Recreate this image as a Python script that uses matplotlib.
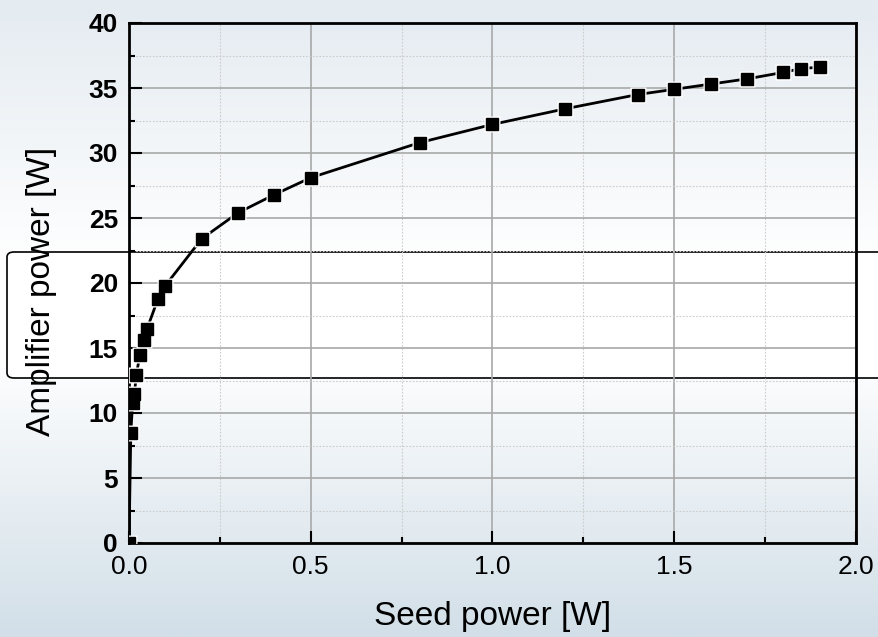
import numpy as np
import matplotlib
matplotlib.use("Agg")
import matplotlib.pyplot as plt
from matplotlib.patches import FancyBboxPatch
from matplotlib.colors import LinearSegmentedColormap
from matplotlib.ticker import MultipleLocator

plt.rcParams['font.family'] = ['Liberation Sans', 'DejaVu Sans']

# measured data: seed power [W] vs amplifier power [W]
seed_power = [0.0, 0.005, 0.01, 0.015, 0.02, 0.03, 0.04, 0.05, 0.08, 0.1,
              0.2, 0.3, 0.4, 0.5, 0.8, 1.0, 1.2, 1.4, 1.5, 1.6, 1.7, 1.8,
              1.85, 1.9]
amp_power = [0.0, 8.5, 10.8, 11.5, 12.9, 14.5, 15.6, 16.5, 18.8, 19.8,
             23.4, 25.4, 26.8, 28.1, 30.8, 32.2, 33.4, 34.5, 34.9, 35.3,
             35.7, 36.2, 36.5, 36.6]

fig = plt.figure(figsize=(8.79, 6.37), dpi=100)

# background gradient over the whole figure
bg = fig.add_axes([0, 0, 1, 1], zorder=-10)
cmap = LinearSegmentedColormap.from_list(
    'bg', [(0.0, '#e4ebf1'), (0.42, '#ffffff'), (0.55, '#ffffff'), (1.0, '#d2dfe8')])
bg.imshow(np.linspace(0, 1, 256).reshape(-1, 1), aspect='auto', cmap=cmap,
          extent=[0, 1, 1, 0])
bg.set_xlim(0, 1)
bg.set_ylim(1, 0)
bg.axis('off')

# white rounded box behind the middle of the plot (runs off the right edge)
box = FancyBboxPatch((7 / 879, 1 - 378 / 637), 1.1, 126 / 637,
                     boxstyle='round,pad=0,rounding_size=0.008',
                     transform=fig.transFigure, facecolor='white',
                     edgecolor='black', linewidth=1.2, zorder=-5)
fig.patches.append(box)

ax = fig.add_axes([129 / 879, 94 / 637, 727 / 879, 520 / 637])
ax.patch.set_alpha(0)

ax.plot(seed_power, amp_power, color='black', lw=2, zorder=3)
ax.plot(seed_power, amp_power, ls='none', marker='s', ms=11.5, color='white',
        mec='none', zorder=4)
ax.plot(seed_power, amp_power, ls='none', marker='s', ms=9, color='black',
        mec='black', zorder=5)

ax.set_xlim(0, 2.0)
ax.set_ylim(0, 40)
ax.xaxis.set_major_locator(MultipleLocator(0.5))
ax.xaxis.set_minor_locator(MultipleLocator(0.25))
ax.yaxis.set_major_locator(MultipleLocator(5))
ax.yaxis.set_minor_locator(MultipleLocator(2.5))
ax.set_xticks([0, 0.5, 1.0, 1.5, 2.0])
ax.set_xticklabels(['0.0', '0.5', '1.0', '1.5', '2.0'])

ax.grid(which='major', color='#a8a8a8', lw=1.2, ls='-')
ax.grid(which='minor', color='#cccccc', lw=0.8, ls=(0, (1.5, 1.5)))
ax.set_axisbelow(True)

for s in ax.spines.values():
    s.set_linewidth(2)
    s.set_color('black')

ax.tick_params(which='both', direction='in', top=False, right=False, width=1.5)
ax.tick_params(which='major', length=9)
ax.tick_params(which='minor', length=4.5)
ax.tick_params(axis='x', labelsize=19, pad=9)
ax.tick_params(axis='y', labelsize=19, pad=8)
for lab in ax.get_yticklabels():
    lab.set_fontweight('bold')

fig.text(493 / 879, 1 - 617 / 637, 'Seed power [W]', fontsize=24,
         ha='center', va='center')
fig.text(42 / 879, 1 - 291 / 637, 'Amplifier power [W]', fontsize=24,
         ha='center', va='center', rotation=90)

fig.savefig('out.png', dpi=100)
